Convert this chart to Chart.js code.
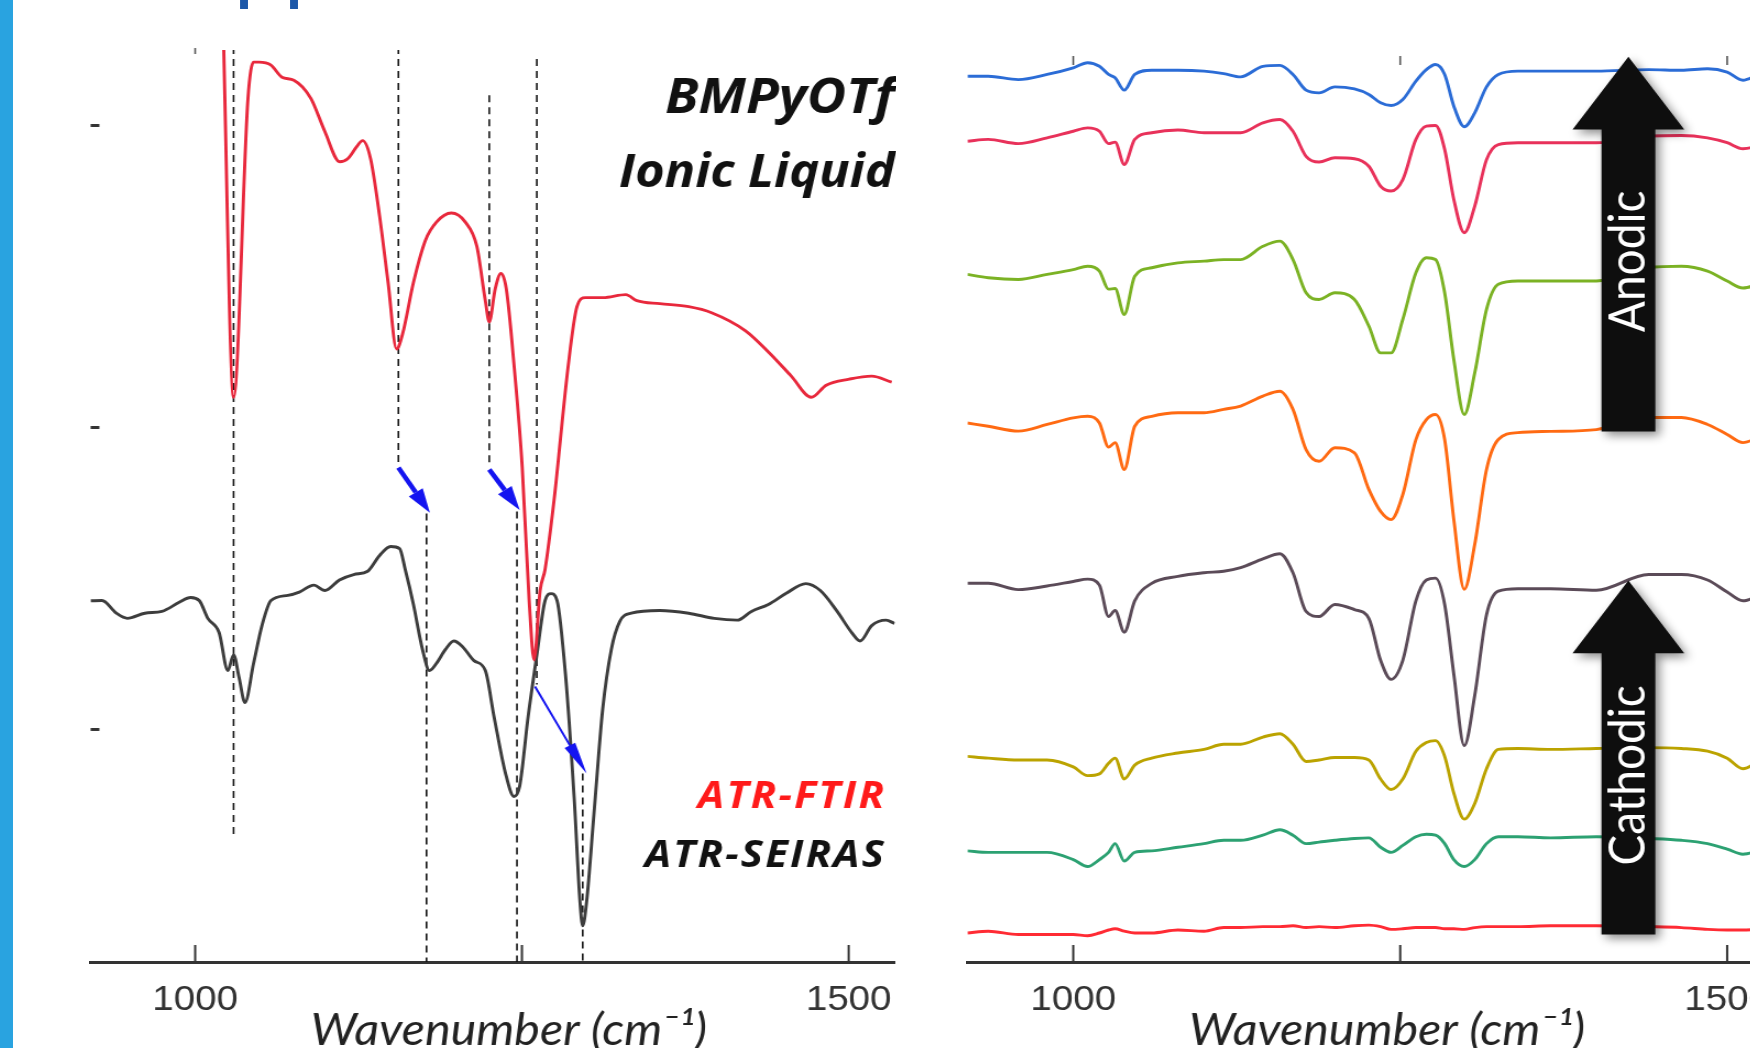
<!DOCTYPE html>
<html>
<head>
<meta charset="utf-8">
<title>BMPyOTf ATR-SEIRAS</title>
<script src="https://cdn.jsdelivr.net/npm/chart.js@4.4.1/dist/chart.umd.min.js"></script>
<style>
  html, body { margin: 0; padding: 0; background: #fff; }
  body { width: 1750px; height: 1048px; overflow: hidden; position: relative; }
  #strip { position: absolute; left: 0; top: 0; width: 13px; height: 1048px; background: #29a3e0; }
  #heading { position: absolute; left: 234px; top: -86px; font: 90px/1 "Liberation Sans", sans-serif; color: #1d58a8; white-space: nowrap; }
  .panel { position: absolute; top: 0; height: 1100px; transform: scaleX(1.1); transform-origin: 0 0; }
  #leftPanel { left: 89px; width: 734px; }
  #rightPanel { left: 966px; width: 735px; }
</style>
</head>
<body>
<div id="strip"></div>
<div id="heading">pp</div>
<div class="panel" id="leftPanel"><canvas id="leftChart"></canvas></div>
<div class="panel" id="rightPanel"><canvas id="rightChart"></canvas></div>
<script>
// wavenumber axis (cm-1) and absorbance axis (arbitrary units)
const tickValues = [1000, 1250, 1500];
const tickLabels = ['1000', '', '1500'];
const axisTitle = 'Wavenumber (cm⁻¹)';
const axisTitleWn = 1240;
const absTicks = [0, 100, 200];
const absMin = -77, absMax = 225;

// ATR-FTIR of the neat ionic liquid
const ftirWn = [1021, 1029.4, 1040.4, 1044.7, 1048.8, 1058.0, 1066.4, 1075.5, 1088.5, 1099.2, 1110.6, 1116.7, 1123.6, 1128.1, 1134.2, 1141.1, 1147.6, 1154.1, 1158.7, 1167.0, 1176.2, 1184.6, 1196.0, 1206.7, 1215.5, 1222.0, 1225.0, 1229.6, 1233.9, 1238.0, 1244.1, 1250.2, 1255.5, 1259.3, 1263.9, 1267.7, 1274.6, 1285.3, 1292.1, 1298.6, 1312.0, 1329.5, 1337.9, 1355.5, 1377.6, 1395.1, 1421.1, 1438.6, 1456.1, 1471.4, 1482.8, 1500.4, 1517.6, 1532.9];
const ftirAbs = [240, 110, 209, 221, 221, 220, 216, 215, 209, 198, 188, 189, 193, 195, 189, 170, 148, 126, 131, 148, 162, 168, 171, 168, 160, 142, 135, 146, 151, 146, 120, 87, 43, 23, 46, 53, 76, 120, 140, 143, 143, 144, 142, 141, 140, 138, 132, 125, 117, 110, 114, 116, 117, 115];

// ATR-SEIRAS on the gold film
const seirasWn = [919.9, 928.7, 939.7, 948.1, 961.5, 974.6, 987.8, 996.5, 1003.1, 1009.7, 1018.3, 1025.0, 1029.4, 1033.6, 1038.1, 1044.7, 1051.1, 1058.0, 1070.9, 1079.7, 1090.8, 1099.2, 1110.4, 1121.3, 1132.0, 1141.1, 1149.5, 1156.4, 1160.7, 1167.0, 1173.9, 1179.3, 1184.6, 1191.5, 1197.9, 1204.4, 1213.3, 1222.0, 1228.6, 1237.2, 1243.9, 1248.3, 1254.8, 1261.6, 1267.7, 1272.3, 1276.9, 1283.3, 1289.9, 1294.4, 1296.5, 1299.5, 1305.1, 1311.8, 1318.4, 1324.9, 1333.7, 1355.5, 1377.6, 1397.2, 1414.7, 1425.6, 1438.6, 1451.9, 1467.2, 1478.3, 1491.2, 1502.3, 1508.8, 1517.6, 1528.6, 1535.1];
const seirasAbs = [42.6, 42.7, 38.5, 36.8, 38.5, 39.1, 42.1, 43.7, 42.7, 36.8, 32.1, 19.5, 24.7, 17.2, 8.9, 21.9, 34.4, 42.7, 44.4, 45.5, 47.8, 46.0, 49.5, 51.3, 52.4, 57.6, 60.6, 59.9, 53.0, 41.4, 26.5, 19.5, 21.9, 26.5, 29.3, 27.5, 22.8, 19.5, 4.4, -14.1, -22.2, -18.7, 4.4, 25.2, 42.7, 45.0, 42.7, 18.3, -22.2, -57.0, -65.0, -57.0, -28.0, 6.7, 26.5, 35.8, 38.5, 39.4, 38.5, 36.8, 36.2, 39.1, 41.4, 45.0, 48.3, 46.0, 39.1, 32.1, 29.3, 34.4, 36.2, 35.1];

// dashed peak guides: position, upper end, lower end
const guideWn = [1029.4, 1155.5, 1177.0, 1225.0, 1246.2, 1261.4, 1296.5];
const guideTop = [226, 226, 71.5, 210, 72.2, 222, -14.6];
const guideBottom = [-35.4, 87.1, -77, 87.1, -77, 14.9, -77];

// band shifts from the bulk liquid to the surface spectrum
const shiftFromWn = [1155.5, 1225.0, 1260.0];
const shiftFromAbs = [86.7, 86.1, 14.2];
const shiftToWn = [1179.6, 1248.3, 1299.5];
const shiftToAbs = [71.8, 72.7, -14.6];

// potential-step SEIRAS spectra, bottom to top
const stepWn = [919, 935, 958, 980, 1000, 1011, 1020, 1027, 1032, 1039, 1047, 1060, 1080, 1100, 1115, 1128, 1145, 1158, 1168, 1178, 1188, 1200, 1215, 1226, 1235, 1243, 1252, 1262, 1270, 1277, 1284, 1291, 1299, 1307, 1316, 1325, 1340, 1365, 1400, 1440, 1465, 1485, 1500, 1512, 1525, 1535];
const step1 = [-67.4, -66.8, -67.9, -67.9, -67.9, -68.3, -67.4, -66.4, -66.0, -66.8, -67.4, -67.4, -66.4, -66.8, -65.6, -65.6, -65.3, -65.3, -65.0, -65.6, -65.3, -65.6, -65.0, -64.8, -65.3, -66.2, -66.0, -65.6, -65.6, -65.6, -66.0, -66.0, -66.2, -65.6, -65.3, -65.3, -65.3, -65.0, -65.0, -65.3, -65.6, -66.2, -66.4, -66.4, -66.2, -66.2];
const step2 = [-40.2, -40.7, -40.7, -40.7, -43.1, -45.4, -43.1, -40.7, -37.8, -43.6, -40.7, -40.2, -39.0, -37.8, -36.7, -36.7, -35.0, -33.2, -35.0, -37.8, -37.3, -36.7, -36.1, -35.9, -39.0, -40.7, -38.4, -35.5, -34.7, -35.0, -37.8, -43.1, -45.4, -43.1, -37.8, -35.5, -35.5, -35.9, -35.5, -36.1, -36.7, -37.8, -39.6, -41.3, -40.2, -39.8];
const step3 = [-8.9, -9.5, -10.1, -10.1, -12.4, -15.3, -14.7, -11.2, -9.5, -16.4, -11.8, -9.5, -7.8, -6.6, -4.9, -4.9, -2.5, -1.4, -4.9, -10.6, -10.1, -9.3, -9.3, -10.1, -16.4, -19.9, -16.4, -7.2, -4.3, -3.7, -8.9, -21.1, -29.7, -24.5, -13.0, -6.6, -6.3, -6.6, -6.3, -6.0, -6.3, -7.2, -9.5, -13.0, -10.6, -10.1];
const step4 = [48.4, 48.4, 46.3, 47.5, 49.0, 49.8, 47.8, 37.4, 39.4, 32.2, 42.6, 48.4, 50.7, 51.9, 52.4, 53.6, 56.5, 58.2, 51.9, 39.1, 37.4, 41.4, 39.7, 36.8, 22.9, 16.6, 22.9, 42.6, 49.5, 50.1, 41.4, 18.3, -5.4, 11.3, 38.0, 45.8, 46.6, 46.6, 46.1, 51.3, 51.3, 49.5, 45.5, 42.6, 44.3, 44.9];
const step5 = [101.5, 100.4, 98.8, 101.0, 103.2, 103.7, 101.5, 93.5, 95.0, 86.1, 100.4, 103.7, 104.9, 104.9, 106.0, 107.1, 110.4, 112.0, 106.0, 92.7, 88.8, 93.3, 91.6, 79.5, 72.2, 69.5, 77.8, 96.0, 102.6, 104.3, 96.0, 69.5, 46.4, 61.3, 86.1, 96.0, 98.3, 98.7, 99.3, 103.3, 103.3, 101.0, 97.7, 95.0, 96.7, 97.4];
const step6 = [150.7, 149.6, 149.0, 150.7, 152.3, 153.4, 151.8, 145.8, 146.0, 137.4, 150.1, 152.9, 154.5, 155.1, 155.6, 155.6, 160.0, 161.7, 155.6, 144.6, 142.4, 144.6, 142.4, 133.6, 124.7, 124.7, 135.8, 151.2, 156.2, 155.6, 144.6, 122.5, 104.3, 118.1, 139.1, 147.4, 148.5, 148.5, 148.5, 152.9, 153.4, 151.8, 148.5, 146.2, 147.4, 147.9];
const step7 = [194.8, 195.4, 194.0, 195.9, 198.1, 199.2, 198.1, 194.0, 194.5, 187.1, 195.4, 197.6, 198.5, 197.6, 197.6, 197.6, 200.9, 202.0, 198.1, 189.8, 187.9, 189.3, 189.0, 186.5, 179.9, 178.3, 182.1, 195.4, 199.8, 200.0, 192.1, 175.5, 164.5, 173.3, 188.7, 193.7, 194.3, 194.3, 194.3, 196.5, 196.7, 195.9, 194.3, 192.3, 193.2, 193.4];
const step8 = [216.3, 216.3, 215.2, 216.9, 219.1, 220.8, 219.6, 216.9, 215.8, 211.7, 216.9, 218.3, 218.3, 218.0, 217.2, 216.1, 219.6, 219.9, 216.9, 211.7, 210.8, 212.8, 212.1, 210.3, 207.5, 206.6, 208.6, 214.7, 218.5, 220.2, 216.9, 206.4, 199.6, 204.2, 212.8, 216.9, 218.0, 218.0, 218.0, 218.5, 218.3, 218.8, 217.7, 215.0, 216.9, 217.2];
const stepColors = ['#ff2b34', '#2ca172', '#bba300', '#5b4b58', '#ff6a12', '#7bb224', '#e8315a', '#2b6cd6'];

// sweep-direction arrows: wavenumber centre, half widths, base / neck / tip
const sweepWn = 1424.5;
const sweepShaft = 20.6, sweepHead = 42.7;
const sweepLabels = ['Anodic', 'Cathodic'];
const sweepBase = [98.7, -67.9];
const sweepNeck = [198.7, 25.2];
const sweepTip = [222.8, 49.3];
const sweepTextAt = [155, -15.2];

function pairs(xs, ys) {
  return xs.map((x, i) => ({x, y: ys[i]}));
}

function line(ctx, x0, y0, x1, y1) {
  ctx.beginPath();
  ctx.moveTo(x0, y0);
  ctx.lineTo(x1, y1);
  ctx.stroke();
}

function arrow(ctx, x0, y0, x1, y1, width, headLen, headW) {
  const ang = Math.atan2(y1 - y0, x1 - x0);
  const bx = x1 - headLen * Math.cos(ang), by = y1 - headLen * Math.sin(ang);
  ctx.lineWidth = width;
  line(ctx, x0, y0, bx, by);
  const dx = headW / 2 * Math.sin(ang), dy = headW / 2 * Math.cos(ang);
  ctx.beginPath();
  ctx.moveTo(x1, y1);
  ctx.lineTo(bx + dx, by - dy);
  ctx.lineTo(bx - dx, by + dy);
  ctx.closePath();
  ctx.fill();
}

function wnAxis(min, max) {
  return {
    type: 'linear',
    position: 'bottom',
    min, max,
    afterBuildTicks: s => { s.ticks = tickValues.map(value => ({value})); },
    // fixed band under the plot; labels sit well inside the ends, so no side padding
    afterFit: s => {
      s.height = 138;
      s.paddingLeft = 0;
      s.paddingRight = 0;
    },
    grid: {display: false, drawTicks: false},
    border: {display: true, color: '#333', width: 3},
    ticks: {
      callback: (v, i) => tickLabels[i],
      color: '#333',
      padding: 17,
      maxRotation: 0,
      autoSkip: false,
      font: {family: 'Liberation Sans', size: 35}
    }
  };
}

function absAxis() {
  return {type: 'linear', display: false, min: absMin, max: absMax};
}

// inward ticks on the bottom axis, short marks along the top edge, axis title
function axisTicks(chart, topTicks, topFrom, topTo) {
  const {ctx, chartArea: a, scales: {x}} = chart;
  ctx.strokeStyle = '#333';
  ctx.lineWidth = 2;
  tickValues.forEach(v => {
    const px = x.getPixelForValue(v);
    line(ctx, px, a.bottom, px, a.bottom - 17);
  });
  ctx.strokeStyle = '#555';
  ctx.lineWidth = 1.6;
  topTicks.forEach(v => {
    const px = x.getPixelForValue(v);
    line(ctx, px, a.top + topFrom, px, a.top + topTo);
  });
  ctx.fillStyle = '#222';
  ctx.font = 'italic 44px Lato';
  ctx.textAlign = 'center';
  ctx.textBaseline = 'middle';
  ctx.fillText(axisTitle, x.getPixelForValue(axisTitleWn), a.bottom + 69);
}

const spectrumLine = {pointRadius: 0, borderWidth: 2.9, cubicInterpolationMode: 'monotone', fill: false};

const leftDecor = {
  id: 'leftDecor',
  afterDatasetsDraw(chart) {
    const {ctx, chartArea: a, scales: {x, y}} = chart;
    ctx.save();
    axisTicks(chart, [1000], -2, 4);
    ctx.strokeStyle = '#333';
    ctx.lineWidth = 3;
    absTicks.forEach(v => {
      const py = y.getPixelForValue(v);
      line(ctx, a.left, py, a.left + 8, py);
    });

    // blue arrows for the band shifts
    ctx.strokeStyle = '#1414f0';
    ctx.fillStyle = '#1414f0';
    shiftFromWn.forEach((w, i) => {
      const thin = i === 2;
      arrow(ctx,
        x.getPixelForValue(w), y.getPixelForValue(shiftFromAbs[i]),
        x.getPixelForValue(shiftToWn[i]), y.getPixelForValue(shiftToAbs[i]),
        thin ? 2 : 4.5, thin ? 32 : 24, thin ? 11 : 15);
    });

    ctx.textAlign = 'right';
    ctx.textBaseline = 'alphabetic';
    ctx.fillStyle = '#111';
    ctx.font = 'italic bold 49px "Open Sans"';
    ctx.fillText('BMPyOTf', a.right, 113);
    ctx.font = 'italic bold 46px "Open Sans"';
    ctx.fillText('Ionic Liquid', a.right, 187);
    ctx.font = 'italic bold 38px "Open Sans"';
    ctx.letterSpacing = '2px';
    ctx.fillStyle = '#ff1a1a';
    ctx.fillText('ATR-FTIR', a.right - 8, 808);
    ctx.fillStyle = '#111';
    ctx.fillText('ATR-SEIRAS', a.right - 8, 867);
    ctx.restore();
  }
};

const rightDecor = {
  id: 'rightDecor',
  afterDatasetsDraw(chart) {
    const {ctx, scales: {x, y}} = chart;
    ctx.save();
    axisTicks(chart, tickValues, 6, 15);

    const cx = x.getPixelForValue(sweepWn);
    const sw = x.getPixelForValue(sweepWn + sweepShaft) - cx;
    const hw = x.getPixelForValue(sweepWn + sweepHead) - cx;
    sweepLabels.forEach((txt, i) => {
      const yb = y.getPixelForValue(sweepBase[i]);
      const yn = y.getPixelForValue(sweepNeck[i]);
      const yt = y.getPixelForValue(sweepTip[i]);
      ctx.save();
      ctx.shadowColor = 'rgba(0,0,0,0.45)';
      ctx.shadowBlur = 10;
      ctx.shadowOffsetX = 4;
      ctx.shadowOffsetY = 4;
      ctx.fillStyle = '#0e0e0e';
      ctx.beginPath();
      ctx.moveTo(cx - sw, yb);
      ctx.lineTo(cx - sw, yn);
      ctx.lineTo(cx - hw, yn);
      ctx.lineTo(cx, yt);
      ctx.lineTo(cx + hw, yn);
      ctx.lineTo(cx + sw, yn);
      ctx.lineTo(cx + sw, yb);
      ctx.closePath();
      ctx.fill();
      ctx.restore();

      ctx.save();
      ctx.translate(cx, y.getPixelForValue(sweepTextAt[i]));
      ctx.rotate(-Math.PI / 2);
      ctx.fillStyle = '#fff';
      ctx.font = '46px Lato';
      ctx.textAlign = 'center';
      ctx.textBaseline = 'middle';
      ctx.fillText(txt, 0, 0);
      ctx.restore();
    });
    ctx.restore();
  }
};

const guideSets = guideWn.map((w, i) => ({
  data: [{x: w, y: guideTop[i]}, {x: w, y: guideBottom[i]}],
  borderColor: '#111',
  borderWidth: 1.6,
  borderDash: [7, 5],
  pointRadius: 0,
  tension: 0,
  order: 2
}));

new Chart(document.getElementById('leftChart'), {
  type: 'line',
  data: {
    datasets: [
      {label: 'ATR-FTIR', data: pairs(ftirWn, ftirAbs), borderColor: '#e8283c', order: 0, ...spectrumLine},
      {label: 'ATR-SEIRAS', data: pairs(seirasWn, seirasAbs), borderColor: '#3d3d3d', order: 1, ...spectrumLine},
      ...guideSets
    ]
  },
  options: {
    responsive: true,
    maintainAspectRatio: false,
    animation: false,
    layout: {padding: {top: 50, left: 0, right: 0, bottom: 0}},
    plugins: {legend: {display: false}, tooltip: {enabled: false}},
    scales: {x: wnAxis(920, 1535.3), y: absAxis()}
  },
  plugins: [leftDecor]
});

const steps = [step1, step2, step3, step4, step5, step6, step7, step8];
new Chart(document.getElementById('rightChart'), {
  type: 'line',
  data: {
    datasets: steps.map((s, i) => ({
      label: 'step ' + (i + 1),
      data: pairs(stepWn, s),
      borderColor: stepColors[i],
      ...spectrumLine
    }))
  },
  options: {
    responsive: true,
    maintainAspectRatio: false,
    animation: false,
    layout: {padding: {top: 50, left: 0, right: 0, bottom: 0}},
    plugins: {legend: {display: false}, tooltip: {enabled: false}},
    scales: {x: wnAxis(919.2, 1535), y: absAxis()}
  },
  plugins: [rightDecor]
});
</script>
</body>
</html>
